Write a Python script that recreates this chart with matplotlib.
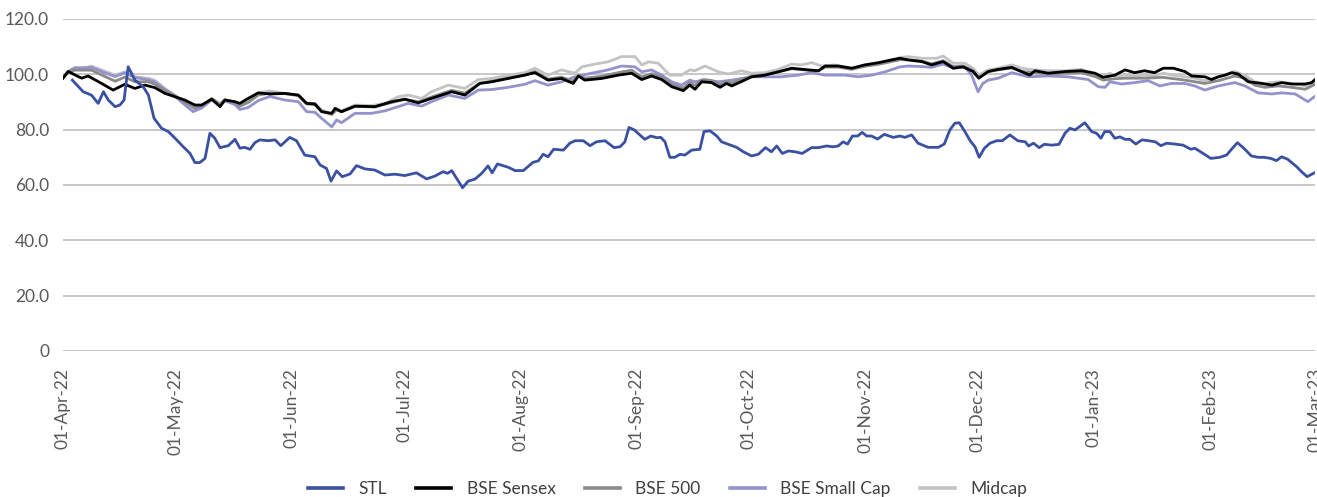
import matplotlib
matplotlib.use("Agg")
import matplotlib.pyplot as plt
import matplotlib.dates as mdates
import pandas as pd

# day offsets are counted from 01-Apr-22, values indexed to 100
start_date = pd.Timestamp("2022-04-01")
end_date = pd.Timestamp("2023-03-01")

stl_day = [2.5, 5.4, 7.6, 9.4, 10.8, 12.1, 13.9, 15.2, 16.3, 17.4, 19.2, 21.4, 22.8, 24.3, 26.3,
           28.1, 29.9, 32.1, 33.9, 35.2, 36.5, 37.9, 39.2, 40.5, 41.9, 44.1, 45.9, 47.2, 48.5, 49.9,
           51.2, 52.5, 54.8, 56.6, 58.1, 60.5, 62.3, 64.5, 67.2, 68.6, 70.3, 71.5, 73.0, 74.5, 76.6,
           78.3, 80.6, 83.2, 85.9, 88.6, 91.2, 94.3, 97.0, 99.2, 101.4, 102.6, 103.7, 105.0, 106.6, 108.1,
           109.9, 111.7, 113.4, 114.5, 115.9, 118.8, 120.6, 122.8, 125.4, 126.8, 128.1, 129.4, 130.9, 133.5, 135.2,
           136.6, 138.8, 140.6, 142.3, 144.6, 147.0, 148.6, 149.9, 151.0, 152.4, 155.2, 156.8, 158.4, 159.5, 160.6,
           161.9, 163.2, 164.6, 165.9, 167.7, 169.9, 171.0, 172.6, 174.4, 175.7, 177.5, 179.7, 181.5, 183.7, 185.5,
           187.4, 189.0, 190.4, 191.9, 193.5, 195.3, 197.2, 199.7, 201.5, 203.7, 205.5, 206.8, 208.1, 209.3, 210.6,
           212.0, 213.2, 214.4, 215.7, 217.3, 219.1, 221.5, 223.3, 224.6, 226.4, 228.1, 230.8, 233.5, 235.1, 236.6,
           237.9, 239.1, 240.6, 242.0, 243.3, 244.4, 245.8, 247.3, 249.1, 250.6, 252.6, 254.7, 256.7, 257.6, 258.9,
           260.4, 261.8, 263.8, 265.7, 267.3, 268.6, 270.0, 272.6, 274.4, 275.7, 276.9, 277.9, 279.3, 280.6, 282.0,
           283.3, 284.6, 286.2, 287.8, 289.6, 291.4, 292.9, 294.4, 296.6, 298.8, 300.9, 301.9, 303.7, 306.2, 308.6,
           310.4, 312.1, 313.3, 315.3, 317.0, 318.8, 320.4, 322.2, 323.7, 325.1, 326.7, 329.1, 330.4, 331.9, 334.4]
stl_val = [97.9, 93.7, 92.5, 89.5, 93.7, 90.7, 88.3, 88.9, 90.7, 102.7, 97.9, 95.5, 92.5, 84.1, 80.5,
           79.3, 76.9, 73.8, 71.4, 68.1, 68.1, 69.6, 78.7, 76.9, 73.5, 74.2, 76.5, 73.3, 73.6, 72.9,
           75.3, 76.3, 76.0, 76.3, 74.2, 77.2, 76.0, 70.8, 70.2, 67.2, 66.0, 61.4, 65.1, 63.0, 64.0,
           67.0, 65.8, 65.4, 63.6, 63.9, 63.4, 64.4, 62.2, 63.2, 64.8, 64.2, 65.2, 62.4, 59.0, 61.4,
           62.1, 64.2, 66.9, 64.4, 67.6, 66.4, 65.2, 65.2, 68.2, 68.7, 71.1, 70.2, 72.9, 72.6, 75.1,
           76.0, 76.0, 74.2, 75.6, 76.0, 73.5, 73.8, 75.6, 80.8, 79.9, 76.5, 77.7, 77.1, 77.2, 75.6,
           70.0, 70.0, 71.1, 70.8, 72.6, 72.9, 79.3, 79.6, 77.7, 75.6, 74.7, 73.6, 72.0, 70.5, 71.1,
           73.5, 72.0, 74.1, 71.4, 72.3, 72.0, 71.4, 73.5, 73.5, 74.1, 73.8, 74.1, 75.6, 74.8, 77.7,
           77.7, 79.0, 77.7, 77.7, 76.6, 78.3, 77.2, 77.7, 77.2, 78.1, 75.1, 73.6, 73.6, 74.8, 79.9,
           82.3, 82.5, 79.3, 76.0, 73.8, 70.0, 73.3, 75.1, 76.0, 76.0, 78.1, 76.0, 75.6, 74.1, 75.1,
           73.5, 74.7, 74.4, 74.7, 78.7, 80.5, 79.9, 82.5, 79.3, 78.7, 76.9, 79.3, 79.3, 76.9, 77.4,
           76.5, 76.5, 74.8, 76.3, 76.0, 75.6, 74.2, 75.1, 74.8, 74.4, 72.9, 73.3, 71.8, 69.6, 70.0,
           70.8, 73.5, 75.3, 72.9, 70.5, 70.0, 70.0, 69.6, 68.8, 70.2, 69.3, 66.6, 64.8, 63.0, 64.8]

sensex_day = [0, 1.4, 5.0, 6.7, 10.3, 13.4, 16.5, 19.2, 21.9, 24.5, 27.2, 29.9, 32.5, 35.2, 37.0,
              39.7, 41.9, 43.2, 45.9, 47.2, 49.4, 52.1, 55.2, 59.2, 62.8, 65.0, 67.2, 69.0, 71.7, 72.6,
              74.3, 77.9, 83.2, 87.7, 91.2, 94.8, 98.3, 103.7, 107.2, 111.2, 114.4, 118.8, 123.2, 125.9, 129.4,
              133.0, 136.1, 137.5, 139.2, 143.7, 148.1, 151.7, 154.4, 157.0, 159.7, 162.4, 165.5, 167.2, 168.6, 170.4,
              173.0, 175.3, 177.0, 178.4, 181.5, 183.7, 187.3, 190.8, 194.4, 198.8, 201.5, 203.3, 206.8, 210.4, 213.9,
              217.5, 221.0, 223.3, 225.5, 229.1, 231.7, 234.8, 237.5, 240.1, 242.8, 244.3, 246.8, 249.5, 253.1, 255.7,
              257.9, 259.3, 262.8, 267.3, 271.7, 275.3, 277.5, 280.6, 283.3, 285.9, 288.5, 291.2, 293.5, 296.2, 299.3,
              301.1, 304.6, 306.4, 308.2, 310.0, 311.8, 313.5, 316.2, 319.8, 322.5, 325.1, 327.8, 331.4, 333.1, 334.4]
sensex_val = [98.6, 101.0, 98.6, 99.4, 96.7, 94.3, 96.4, 94.9, 96.1, 95.2, 93.1, 91.9, 90.7, 88.9, 88.9,
              91.0, 88.3, 90.7, 90.1, 89.5, 91.3, 93.3, 92.9, 93.1, 92.5, 89.5, 89.3, 86.5, 85.9, 87.7,
              86.5, 88.5, 88.3, 90.1, 91.0, 89.7, 91.3, 93.7, 92.5, 96.7, 97.3, 98.5, 99.7, 100.6, 97.9,
              98.5, 96.7, 99.4, 97.9, 98.5, 99.7, 100.4, 98.1, 99.4, 98.1, 95.5, 94.1, 96.1, 94.6, 97.3,
              97.0, 95.3, 96.7, 95.8, 97.7, 99.1, 99.7, 100.9, 102.2, 101.6, 101.3, 103.0, 103.0, 102.2, 103.4,
              104.2, 105.2, 105.8, 105.2, 104.6, 103.4, 104.6, 102.2, 102.7, 101.0, 98.6, 101.0, 101.8, 102.5, 101.0,
              99.7, 101.3, 100.4, 101.0, 101.3, 100.4, 98.9, 99.7, 101.6, 100.6, 101.3, 100.6, 102.2, 102.2, 101.0,
              99.4, 99.1, 98.1, 99.1, 99.7, 100.6, 100.1, 97.3, 96.7, 96.1, 97.0, 96.5, 96.5, 97.0, 98.6]

bse500_day = [0, 1.4, 3.2, 7.6, 10.3, 13.9, 16.5, 19.2, 22.8, 24.5, 27.2, 29.9, 32.5, 35.2, 37.0,
              39.7, 41.9, 43.2, 45.9, 47.2, 49.4, 52.1, 55.2, 59.2, 62.8, 65.0, 67.2, 69.0, 71.7, 73.0,
              74.3, 77.9, 83.2, 87.7, 91.2, 94.8, 98.3, 103.7, 107.2, 111.2, 114.4, 118.8, 123.2, 125.9, 129.4,
              133.0, 136.1, 137.5, 139.2, 143.7, 148.1, 151.7, 154.4, 157.0, 159.7, 162.4, 165.5, 167.2, 168.6, 170.4,
              173.0, 175.3, 177.0, 178.4, 181.5, 183.7, 187.3, 190.8, 194.4, 198.8, 201.5, 203.3, 206.8, 210.4, 213.9,
              217.5, 221.0, 223.3, 225.5, 229.1, 231.7, 234.8, 237.5, 240.1, 242.8, 244.3, 246.8, 249.5, 253.1, 255.7,
              259.3, 262.8, 267.3, 271.7, 275.3, 277.5, 280.6, 283.3, 288.5, 293.5, 299.3, 304.6, 308.2, 312.6, 315.3,
              317.9, 320.6, 324.2, 327.8, 331.4, 334.4]
bse500_val = [98.6, 101.0, 101.5, 101.5, 99.8, 97.5, 99.0, 97.3, 97.3, 96.5, 94.0, 92.2, 90.0, 87.8, 88.7,
              91.2, 89.0, 90.8, 89.8, 88.5, 89.8, 92.5, 93.2, 93.0, 92.3, 89.3, 89.0, 86.6, 85.5, 87.2,
              86.4, 88.4, 88.2, 89.8, 91.0, 90.0, 91.8, 94.2, 93.2, 96.8, 97.5, 98.7, 99.8, 101.0, 98.3,
              99.0, 97.5, 99.6, 98.6, 99.3, 100.6, 101.5, 99.0, 100.2, 99.0, 96.3, 95.0, 97.0, 96.0, 98.0,
              97.7, 96.2, 97.4, 96.8, 98.3, 99.4, 99.9, 100.9, 102.0, 101.5, 101.2, 102.6, 102.6, 101.8, 102.9,
              103.6, 104.6, 105.3, 105.2, 104.8, 103.8, 104.9, 102.8, 103.0, 101.3, 98.9, 101.0, 101.6, 102.3, 101.0,
              100.6, 100.2, 100.4, 100.6, 99.2, 97.9, 98.4, 98.6, 98.6, 98.9, 97.9, 96.7, 97.7, 99.4, 98.6,
              96.1, 95.3, 95.8, 95.3, 94.6, 96.7]

smallcap_day = [0, 1.4, 3.2, 7.6, 10.3, 13.9, 16.5, 19.2, 22.8, 24.5, 27.2, 29.9, 32.5, 34.7, 37.0,
                39.7, 41.9, 43.2, 45.9, 47.2, 49.4, 52.1, 55.2, 59.2, 62.8, 65.0, 67.2, 69.0, 71.7, 73.0,
                74.3, 77.9, 82.3, 85.9, 89.4, 92.1, 95.7, 98.3, 102.8, 107.2, 110.8, 114.4, 118.8, 123.2, 125.9,
                129.4, 133.0, 136.6, 141.0, 145.4, 149.0, 152.6, 154.4, 157.0, 159.7, 162.4, 165.0, 167.2, 168.6, 171.3,
                174.8, 178.4, 183.7, 187.3, 191.7, 196.1, 199.7, 203.3, 208.6, 212.1, 215.7, 219.3, 223.3, 225.5, 229.1,
                231.7, 234.8, 237.5, 240.6, 242.4, 244.1, 245.4, 246.8, 249.5, 253.1, 257.6, 262.8, 268.2, 273.5, 276.2,
                278.0, 279.3, 282.4, 285.9, 289.5, 292.6, 295.7, 299.3, 301.9, 304.6, 308.2, 312.6, 315.3, 318.8, 322.4,
                325.1, 328.7, 332.1, 334.4]
smallcap_val = [98.6, 101.0, 102.3, 102.5, 101.0, 99.2, 100.5, 98.8, 98.0, 97.3, 94.5, 92.0, 89.0, 86.5, 87.8,
                90.8, 89.0, 90.5, 89.0, 87.3, 88.0, 90.5, 92.0, 90.7, 90.1, 86.5, 86.3, 84.1, 81.0, 83.5,
                82.5, 85.9, 85.9, 86.8, 88.3, 89.5, 88.5, 90.1, 92.5, 91.3, 94.3, 94.5, 95.3, 96.4, 97.7,
                96.1, 97.3, 99.1, 100.4, 101.6, 103.0, 102.7, 100.9, 101.6, 99.7, 97.3, 96.1, 97.9, 97.3, 98.1,
                97.3, 97.9, 99.1, 99.1, 99.1, 99.7, 100.6, 99.7, 99.7, 99.1, 99.7, 100.9, 102.7, 103.0, 102.8,
                102.5, 103.7, 102.2, 102.7, 99.7, 93.7, 96.7, 97.9, 98.6, 100.6, 99.1, 99.4, 99.1, 98.1, 95.5,
                95.3, 97.3, 96.5, 97.0, 97.7, 95.8, 96.7, 96.7, 95.8, 94.3, 95.8, 97.0, 95.8, 93.3, 92.9,
                93.3, 92.9, 90.1, 92.5]

midcap_day = [0, 1.4, 3.2, 5.0, 7.6, 10.3, 13.9, 16.5, 19.2, 22.8, 24.5, 27.2, 29.9, 32.5, 34.7,
              37.0, 39.7, 41.9, 43.2, 45.9, 47.2, 51.2, 52.1, 55.2, 59.2, 62.8, 65.0, 67.2, 69.0, 71.7,
              73.0, 74.3, 77.9, 82.3, 85.9, 89.4, 92.1, 95.7, 98.3, 102.8, 107.2, 110.8, 114.4, 118.8, 123.2,
              125.9, 129.4, 133.0, 136.6, 138.4, 141.9, 145.4, 149.0, 152.6, 154.4, 156.2, 158.8, 161.9, 165.0, 167.2,
              168.6, 171.3, 174.8, 177.5, 181.0, 183.7, 187.3, 190.8, 194.4, 197.0, 199.7, 202.4, 205.9, 210.4, 213.9,
              217.5, 221.0, 223.3, 225.5, 229.1, 233.0, 234.8, 237.5, 240.6, 242.8, 244.3, 246.8, 249.5, 253.1, 255.7,
              259.3, 262.8, 267.3, 271.7, 275.3, 277.0, 279.3, 280.6, 283.3, 285.9, 288.5, 291.2, 293.5, 296.2, 299.3,
              301.9, 304.6, 308.2, 312.6, 315.3, 317.9, 320.6, 324.2, 327.8, 331.4, 334.4]
midcap_val = [98.6, 101.0, 102.5, 102.0, 103.0, 101.6, 99.7, 100.9, 99.1, 98.6, 97.9, 94.9, 92.5, 89.5, 87.1,
              88.5, 91.3, 89.5, 90.9, 89.5, 88.5, 91.9, 93.3, 94.0, 93.1, 92.5, 89.5, 89.5, 87.1, 85.7,
              87.3, 86.8, 88.9, 88.7, 89.5, 91.9, 92.5, 91.3, 93.7, 96.1, 94.9, 98.1, 98.5, 99.7, 100.6,
              102.2, 99.7, 101.6, 100.4, 102.7, 103.7, 104.5, 106.4, 106.4, 103.4, 104.5, 104.0, 99.7, 99.7, 101.6,
              101.3, 103.0, 100.9, 100.1, 101.3, 100.4, 100.6, 101.8, 103.7, 103.4, 104.2, 103.0, 103.4, 102.2, 103.4,
              104.0, 105.2, 106.1, 106.4, 105.8, 105.8, 106.6, 104.0, 104.0, 102.2, 99.7, 101.6, 102.2, 103.4, 102.2,
              101.6, 101.3, 101.3, 101.8, 100.1, 99.1, 100.4, 99.4, 99.7, 99.4, 99.7, 99.4, 100.4, 99.7, 99.1,
              98.6, 97.7, 99.1, 101.0, 99.7, 97.3, 96.7, 97.3, 96.7, 95.8, 97.9]

series_names = ["STL", "BSE Sensex", "BSE 500", "BSE Small Cap", "Midcap"]
series_colors = ["#3a51a3", "#000000", "#8a8a8a", "#9193cc", "#c3c3c3"]
y_ticks = [0, 20, 40, 60, 80, 100, 120]
y_tick_labels = ["0", "20.0", "40.0", "60.0", "80.0", "100.0", "120.0"]


def to_dates(days):
    return start_date + pd.to_timedelta(days, unit="D")


plt.rcParams["font.family"] = ["Lato", "DejaVu Sans"]

fig = plt.figure(figsize=(13.17, 4.97), dpi=100)
ax = fig.add_axes([0.0478, 0.2938, 0.9507, 0.668])

data = [(stl_day, stl_val), (sensex_day, sensex_val), (bse500_day, bse500_val),
        (smallcap_day, smallcap_val), (midcap_day, midcap_val)]
z_order = [6, 5, 4, 3, 2]
for (days, vals), name, color, z in zip(data, series_names, series_colors, z_order):
    ax.plot(to_dates(days), vals, color=color, lw=2.0, label=name, zorder=z,
            solid_joinstyle="round")

ax.set_ylim(0, 120)
ax.set_xlim(start_date, end_date)
ax.set_yticks(y_ticks)
ax.set_yticklabels(y_tick_labels)
ax.yaxis.grid(True, color="#c4c4c4", lw=1.3)
ax.set_axisbelow(True)
for s in ax.spines.values():
    s.set_visible(False)

ax.xaxis.set_major_locator(mdates.MonthLocator(bymonthday=1))
ax.xaxis.set_major_formatter(mdates.DateFormatter("%d-%b-%y"))
ax.tick_params(axis="both", length=0, labelsize=12.5, labelcolor="#595959")
ax.tick_params(axis="y", pad=10)
ax.tick_params(axis="x", pad=12)
plt.setp(ax.get_xticklabels(), rotation=90)

leg = ax.legend(loc="center", bbox_to_anchor=(0.483, -0.415), ncol=5, frameon=False,
                fontsize=12.5, labelcolor="#404040", handlelength=2.0, handletextpad=0.9,
                columnspacing=1.7, borderpad=0.2)
for h in leg.get_lines():
    h.set_linewidth(2.6)

fig.savefig("out.png", dpi=100)
